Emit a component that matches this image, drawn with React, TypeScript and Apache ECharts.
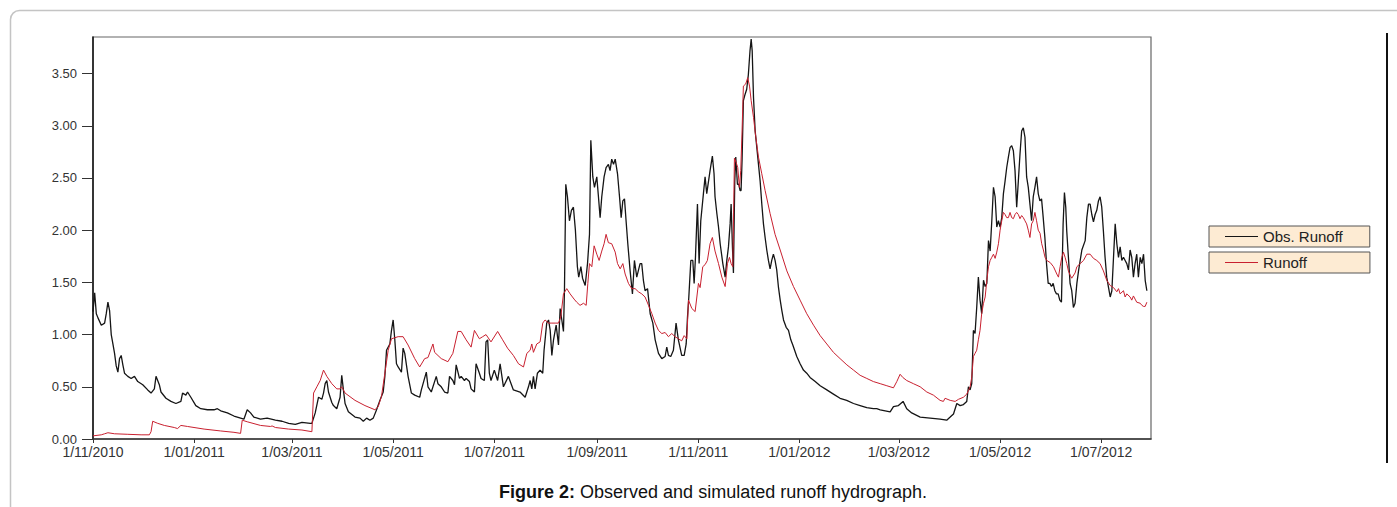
import React, { useEffect, useRef } from "react";
import * as echarts from "echarts";

// x values are days counted from 1/11/2010
const tickDays = [0, 61, 120, 181, 242, 304, 365, 426, 486, 547, 608];
const tickLabels = ["1/11/2010", "1/01/2011", "1/03/2011", "1/05/2011", "1/07/2011", "1/09/2011", "1/11/2011", "1/01/2012", "1/03/2012", "1/05/2012", "1/07/2012"];
const yTicks = [0, 0.5, 1, 1.5, 2, 2.5, 3, 3.5];

const obsDay = [0,1,2,3,5,7,8,9,10,11,12,13,14,15,16,17,18,19,21,23,25,27,30,33,35,37,38,40,41,44,47,50,53,54,56,57,59,62,65,69,73,75,77,81,85,89,91,93,95,97,101,105,110,114,118,122,126,131,132,134,136,138,139,140,141,142,144,145,147,149,150,151,152,154,158,161,163,165,167,169,171,173,175,176,177,179,180,181,182,183,184,186,187,188,190,192,194,197,198,201,202,204,207,208,210,212,214,215,217,218,219,221,222,224,225,227,228,230,231,233,234,236,237,238,239,240,242,244,245.5,247.5,250.5,253.5,257.5,260.6,262.6,263.6,264.6,265.6,266.6,268,269.6,271.2,272,273.6,274.7,275.7,276.7,277.7,279.3,280.7,281.7,283.7,284.3,285.1,286.1,287.3,288.5,289.7,290.9,292.1,292.9,294.2,295.2,296.8,298.2,299.4,300.2,301.4,302.4,303.8,304.8,305.8,306.8,308.2,309.4,310.8,311.8,312.8,313.9,314.9,316.3,317.5,318.5,319.5,320.5,321.5,322.5,323.9,325.3,326.5,327.9,329.9,330.9,331.9,332.9,334.4,336,337.6,339,341,343,345,346,347,348.4,350,351.6,353,355,356.5,357.7,358.5,359.3,360.5,361.7,362.5,363.3,364.5,365.5,366.5,368.1,369.1,370.1,372.1,373.5,374.5,375.1,376.2,377.2,378.2,379.8,381.2,382.2,383.2,384.2,384.8,385.6,386.2,387,387.6,388.6,389.4,390.2,390.8,391.4,392.2,393.2,394.2,395.2,396.2,396.9,397.5,398.3,399.3,400.3,401.3,402.3,403.3,404.3,405.3,406.3,407.3,408.3,409.3,410.3,411.3,412.3,413.3,414.4,415.4,416.4,418,419.4,420.8,422,424.4,426.4,428.4,430.4,432.4,435.5,438.5,442.5,446.5,450.5,454.5,458.6,462.6,466.6,470.6,472.6,474.7,477.7,480.7,482.7,485.7,488.5,490.7,493.7,498.8,504.8,510.8,514.8,516.9,518.9,520.9,522.9,524.9,526.9,527.9,528.9,529.9,530.9,531.9,532.9,533.9,534.9,535.9,537,538,539,540,541,542,543,544,545,546,547,548,549,550,551,552,553,554,555,556,557,558,559,560,561,562,563,564,565,566,567,568,569,570,571,572,573,574,575,576,577,578,579,580,581,582,583,584,585,585.8,586.6,587.2,588.2,589.2,590.2,591.2,592.2,593.3,594.3,595.3,596.3,598.3,599.3,600.3,601.3,602.3,603.3,604.3,605.3,606.3,607.3,608.3,609.3,610.3,611.3,612.4,613.4,614.4,615.4,616.4,617.4,618.4,619.4,620.4,621.4,622.4,623.4,624.4,625.4,626.4,627.4,628.4,629.4,630.4,631.5,632.5,633.5,634.5,635.5];
const obsVal = [1.22,1.40,1.20,1.16,1.09,1.11,1.20,1.31,1.23,1.00,0.91,0.82,0.70,0.64,0.77,0.80,0.71,0.63,0.60,0.58,0.60,0.55,0.52,0.47,0.44,0.48,0.60,0.52,0.45,0.39,0.36,0.34,0.36,0.44,0.42,0.45,0.40,0.32,0.29,0.28,0.28,0.29,0.27,0.25,0.22,0.20,0.19,0.28,0.25,0.21,0.19,0.20,0.18,0.17,0.15,0.14,0.16,0.15,0.15,0.25,0.40,0.38,0.44,0.53,0.56,0.45,0.35,0.32,0.29,0.40,0.61,0.47,0.34,0.26,0.21,0.20,0.17,0.20,0.18,0.20,0.28,0.37,0.45,0.60,0.85,0.91,1.04,1.14,0.95,0.72,0.69,0.64,0.87,0.82,0.60,0.44,0.42,0.40,0.47,0.64,0.50,0.45,0.60,0.53,0.50,0.45,0.44,0.60,0.56,0.52,0.71,0.58,0.60,0.56,0.58,0.55,0.48,0.45,0.72,0.63,0.58,0.56,0.93,0.95,0.63,0.56,0.66,0.56,0.72,0.50,0.60,0.47,0.45,0.40,0.50,0.56,0.48,0.60,0.48,0.63,0.66,0.63,0.85,1.11,1.14,1.04,0.80,0.95,1.09,0.90,1.25,1.03,1.42,2.44,2.32,2.09,2.19,2.22,2.00,1.65,1.55,1.65,1.54,1.47,1.68,1.96,2.86,2.51,2.41,2.51,2.32,2.12,2.32,2.51,2.60,2.63,2.57,2.68,2.63,2.68,2.54,2.32,2.12,2.28,2.30,2.08,1.87,1.61,1.39,1.71,1.55,1.68,1.68,1.52,1.42,1.44,1.20,1.11,0.95,0.82,0.77,0.79,0.88,0.80,0.79,0.85,1.11,0.95,0.80,0.80,0.91,1.17,1.36,1.71,1.71,1.49,1.74,2.25,1.68,2.09,2.35,2.51,2.35,2.57,2.71,2.54,2.32,2.16,2.03,1.87,1.68,1.55,1.71,1.84,2.06,2.25,1.84,1.59,2.47,2.70,2.44,2.44,2.38,2.38,2.67,3.24,3.30,3.35,3.49,3.72,3.83,3.72,3.27,2.95,2.79,2.63,2.47,2.25,2.06,1.93,1.81,1.71,1.63,1.71,1.77,1.71,1.62,1.46,1.33,1.23,1.14,1.07,1.04,0.95,0.90,0.79,0.72,0.66,0.63,0.59,0.55,0.51,0.47,0.43,0.39,0.37,0.34,0.32,0.30,0.29,0.29,0.28,0.27,0.26,0.31,0.32,0.36,0.29,0.25,0.21,0.20,0.19,0.18,0.21,0.24,0.34,0.32,0.33,0.36,0.50,0.47,0.53,1.04,1.01,1.26,1.55,1.33,1.20,1.52,1.46,1.49,1.90,1.80,2.09,2.41,2.32,2.03,2.09,2.03,2.12,2.35,2.47,2.60,2.70,2.79,2.81,2.76,2.57,2.22,2.47,2.73,2.95,2.98,2.89,2.51,2.41,2.25,2.09,2.32,2.41,2.51,2.35,2.28,2.30,2.12,1.93,1.68,1.49,1.49,1.46,1.49,1.42,1.39,1.39,1.33,1.31,2.06,2.36,2.22,1.99,1.74,1.49,1.42,1.26,1.30,1.49,1.61,1.71,1.81,1.90,2.12,2.25,2.25,2.15,2.08,2.15,2.19,2.28,2.32,2.22,1.99,1.74,1.55,1.45,1.36,1.42,1.74,2.06,1.87,1.74,1.84,1.71,1.74,1.71,1.68,1.62,1.81,1.74,1.55,1.68,1.77,1.55,1.74,1.68,1.77,1.52,1.42];

const simDay = [0,5,7,9,13,21,29,34,35,36,39,43,49,51,53,57,67,77,85,89,90,93,101,107,108,110,118,126,132,133,135,137,139,141,144,147,149,150,152,158,164,170,172,174,176,178,180,184,187,190,194,197,200,202,205,206,210,214,217,220,222,225,228,230,233,235,237,240,244,247,250,253.5,256.6,259.6,261.6,263.6,264.6,265.6,267.6,269.6,271.2,272.6,274.7,276.7,278.7,280.7,282.1,283.7,285.7,287.7,290.1,291.7,293.7,295.8,297.4,298.4,299.4,300.8,302.2,303.8,305.2,306.8,308.2,309.4,310.8,312.8,314.9,316.3,317.9,319.5,320.9,322.9,324.9,326.9,328.9,330.9,332.9,335,337,339,341,343,345,347,349,351,353,355,356.5,358.1,359.1,361.1,363.1,365.1,366.1,367.7,369.1,370.5,372.1,373.5,375.1,377.2,379.2,381.2,382.6,383.8,384.8,385.8,386.8,387.8,388.8,389.8,390.6,391.4,392.2,393.6,394.8,395.9,396.9,398.3,399.7,401.3,403.3,405.3,408.3,411.3,414.4,418.4,422.4,426.4,430.4,434.5,438.5,442.5,446.5,450.5,454.6,458.6,462.6,466.6,470.6,474.7,478.7,482.7,484.7,486.7,488.3,490.7,494.7,498.8,502.8,506.8,510.8,512.8,513.8,516.9,519.9,521.9,524.9,526.9,528.9,529.9,530.9,531.9,532.9,533.9,534.9,535.9,537,538,539,540,541,542,543,544,545,546,547,548,549,550,551,552,553,554,555,556,557,558,559,560,561,562,563,564,565,566,567,568,569,570,571.1,572.1,573.1,574.1,575.1,577.2,579.2,581.2,582.2,583.2,584.2,585.2,586.2,587.2,588.2,589.2,590.2,592.2,593.3,595.3,597.3,599.3,601.3,603.3,605.3,607.3,609.3,611.3,613.4,615.4,617.4,618.4,619.4,621.4,622.4,623.4,625.4,626.4,627.4,628.4,629.4,631.5,632.5,633.5,634.5,635.5];
const simVal = [0.03,0.04,0.05,0.06,0.05,0.045,0.04,0.04,0.07,0.17,0.15,0.13,0.11,0.10,0.13,0.12,0.095,0.077,0.064,0.054,0.18,0.165,0.13,0.12,0.125,0.11,0.095,0.086,0.07,0.44,0.50,0.56,0.66,0.60,0.53,0.48,0.48,0.50,0.44,0.37,0.32,0.28,0.31,0.41,0.63,0.85,0.96,0.98,0.98,0.90,0.77,0.69,0.77,0.78,0.91,0.83,0.77,0.74,0.82,1.03,1.03,0.95,0.88,1.04,0.96,0.98,1.00,0.93,1.03,0.95,0.87,0.80,0.72,0.69,0.82,0.85,0.91,0.83,0.91,0.93,1.11,1.14,1.11,1.11,1.11,1.11,1.17,1.39,1.44,1.39,1.34,1.31,1.28,1.30,1.28,1.49,1.68,1.65,1.85,1.77,1.71,1.80,1.87,1.96,1.88,1.87,1.79,1.68,1.63,1.68,1.58,1.49,1.44,1.44,1.41,1.39,1.36,1.28,1.20,1.11,1.04,1.01,1.02,0.98,1.01,0.98,0.96,0.94,0.99,0.96,1.33,1.25,1.22,1.49,1.45,1.65,1.67,1.71,1.87,1.93,1.80,1.68,1.55,1.46,1.68,1.74,1.68,1.65,2.69,2.65,2.60,2.41,2.57,2.95,3.38,3.40,3.46,3.38,3.24,3.08,2.89,2.70,2.54,2.38,2.16,1.96,1.81,1.61,1.46,1.33,1.20,1.09,0.99,0.91,0.83,0.77,0.71,0.66,0.61,0.58,0.55,0.53,0.51,0.49,0.55,0.62,0.59,0.56,0.53,0.50,0.45,0.42,0.37,0.36,0.39,0.37,0.36,0.38,0.40,0.43,0.50,0.59,0.79,0.82,0.85,0.95,1.04,1.20,1.30,1.36,1.52,1.65,1.71,1.74,1.77,1.73,1.79,1.87,2.00,2.09,2.17,2.15,2.12,2.12,2.17,2.12,2.11,2.15,2.17,2.15,2.11,2.14,2.12,2.09,2.06,2.00,1.93,2.06,2.09,2.17,2.09,2.00,1.97,1.87,1.81,1.74,1.71,1.69,1.65,1.58,1.55,1.65,1.74,1.79,1.74,1.68,1.61,1.57,1.54,1.59,1.65,1.68,1.71,1.77,1.77,1.73,1.71,1.68,1.61,1.52,1.47,1.45,1.41,1.44,1.39,1.42,1.36,1.39,1.36,1.33,1.37,1.34,1.31,1.30,1.28,1.27,1.27,1.31];

const FONT = "Arial, 'Liberation Sans', Helvetica, sans-serif";

export default function App() {
  const ref = useRef<HTMLDivElement>(null);
  useEffect(() => {
    if (!ref.current) return;
    const chart = echarts.init(ref.current, null, { renderer: "svg" });
    const obsData = obsDay.map((d, i) => [d, obsVal[i]]);
    const simData = simDay.map((d, i) => [d, simVal[i]]);
    const legendBase = {
      orient: "vertical",
      backgroundColor: "#fdebd3",
      borderColor: "#555",
      borderWidth: 1,
      borderRadius: 0,
      icon: "rect",
      itemWidth: 33,
      itemHeight: 1.2,
      selectedMode: false,
      textStyle: { fontSize: 15, color: "#222", fontFamily: FONT, lineHeight: 15 },
    };
    chart.setOption({
      animation: false,
      backgroundColor: "#fff",
      grid: {
        left: 93, top: 37, right: 246, bottom: 68,
        show: true, borderColor: "#666", borderWidth: 1.2, backgroundColor: "transparent",
      },
      title: {
        text: "{b|Figure 2:} Observed and simulated runoff hydrograph.",
        left: 708, top: 478, textAlign: "center",
        textStyle: {
          fontSize: 18, fontWeight: "normal", color: "#111", fontFamily: FONT,
          rich: { b: { fontSize: 18, fontWeight: "bold", color: "#111", fontFamily: FONT } },
        },
      },
      legend: [
        { ...legendBase, left: 1209, top: 226, padding: [3, 27, 3, 16], data: ["Obs. Runoff"] },
        { ...legendBase, left: 1209, top: 252, padding: [3, 63, 3, 16], data: ["Runoff"] },
      ],
      xAxis: {
        type: "value", min: 0, max: 638,
        axisLine: { lineStyle: { color: "#333", width: 1.5 } },
        axisTick: { customValues: tickDays, length: 4, lineStyle: { color: "#333" } },
        axisLabel: {
          customValues: tickDays, margin: 7, fontSize: 14, lineHeight: 12, color: "#333", fontFamily: FONT,
          formatter: (v: number) => {
            const i = tickDays.indexOf(Math.round(v));
            return i >= 0 ? tickLabels[i] : "";
          },
        },
        splitLine: { show: false },
      },
      yAxis: {
        type: "value", min: 0, max: 3.85,
        axisLine: { show: true, lineStyle: { color: "#111", width: 1.5 } },
        axisTick: { show: true, customValues: yTicks, length: 11, lineStyle: { color: "#333" } },
        axisLabel: {
          customValues: yTicks, margin: 16, fontSize: 13, lineHeight: 11, color: "#333", fontFamily: FONT,
          formatter: (v: number) => v.toFixed(2),
        },
        splitLine: { show: false },
      },
      graphic: [
        { type: "rect", shape: { x: 10.5, y: 10.5, width: 1500, height: 600, r: 9 }, style: { fill: "none", stroke: "#c4c4c4", lineWidth: 1.5 }, silent: true },
        { type: "line", shape: { x1: 1387, y1: 33, x2: 1387, y2: 463 }, style: { stroke: "#111", lineWidth: 2 }, silent: true },
      ],
      series: [
        {
          name: "Obs. Runoff", type: "line", data: obsData, symbol: "none", showSymbol: false,
          lineStyle: { color: "#151515", width: 1.3 }, itemStyle: { color: "#151515" },
        },
        {
          name: "Runoff", type: "line", data: simData, symbol: "none", showSymbol: false,
          lineStyle: { color: "#c8202f", width: 1 }, itemStyle: { color: "#c8202f" },
        },
      ],
    });
    return () => chart.dispose();
  }, []);
  return <div ref={ref} style={{ position: "fixed", left: 0, top: 0, width: 1397, height: 507 }} />;
}
